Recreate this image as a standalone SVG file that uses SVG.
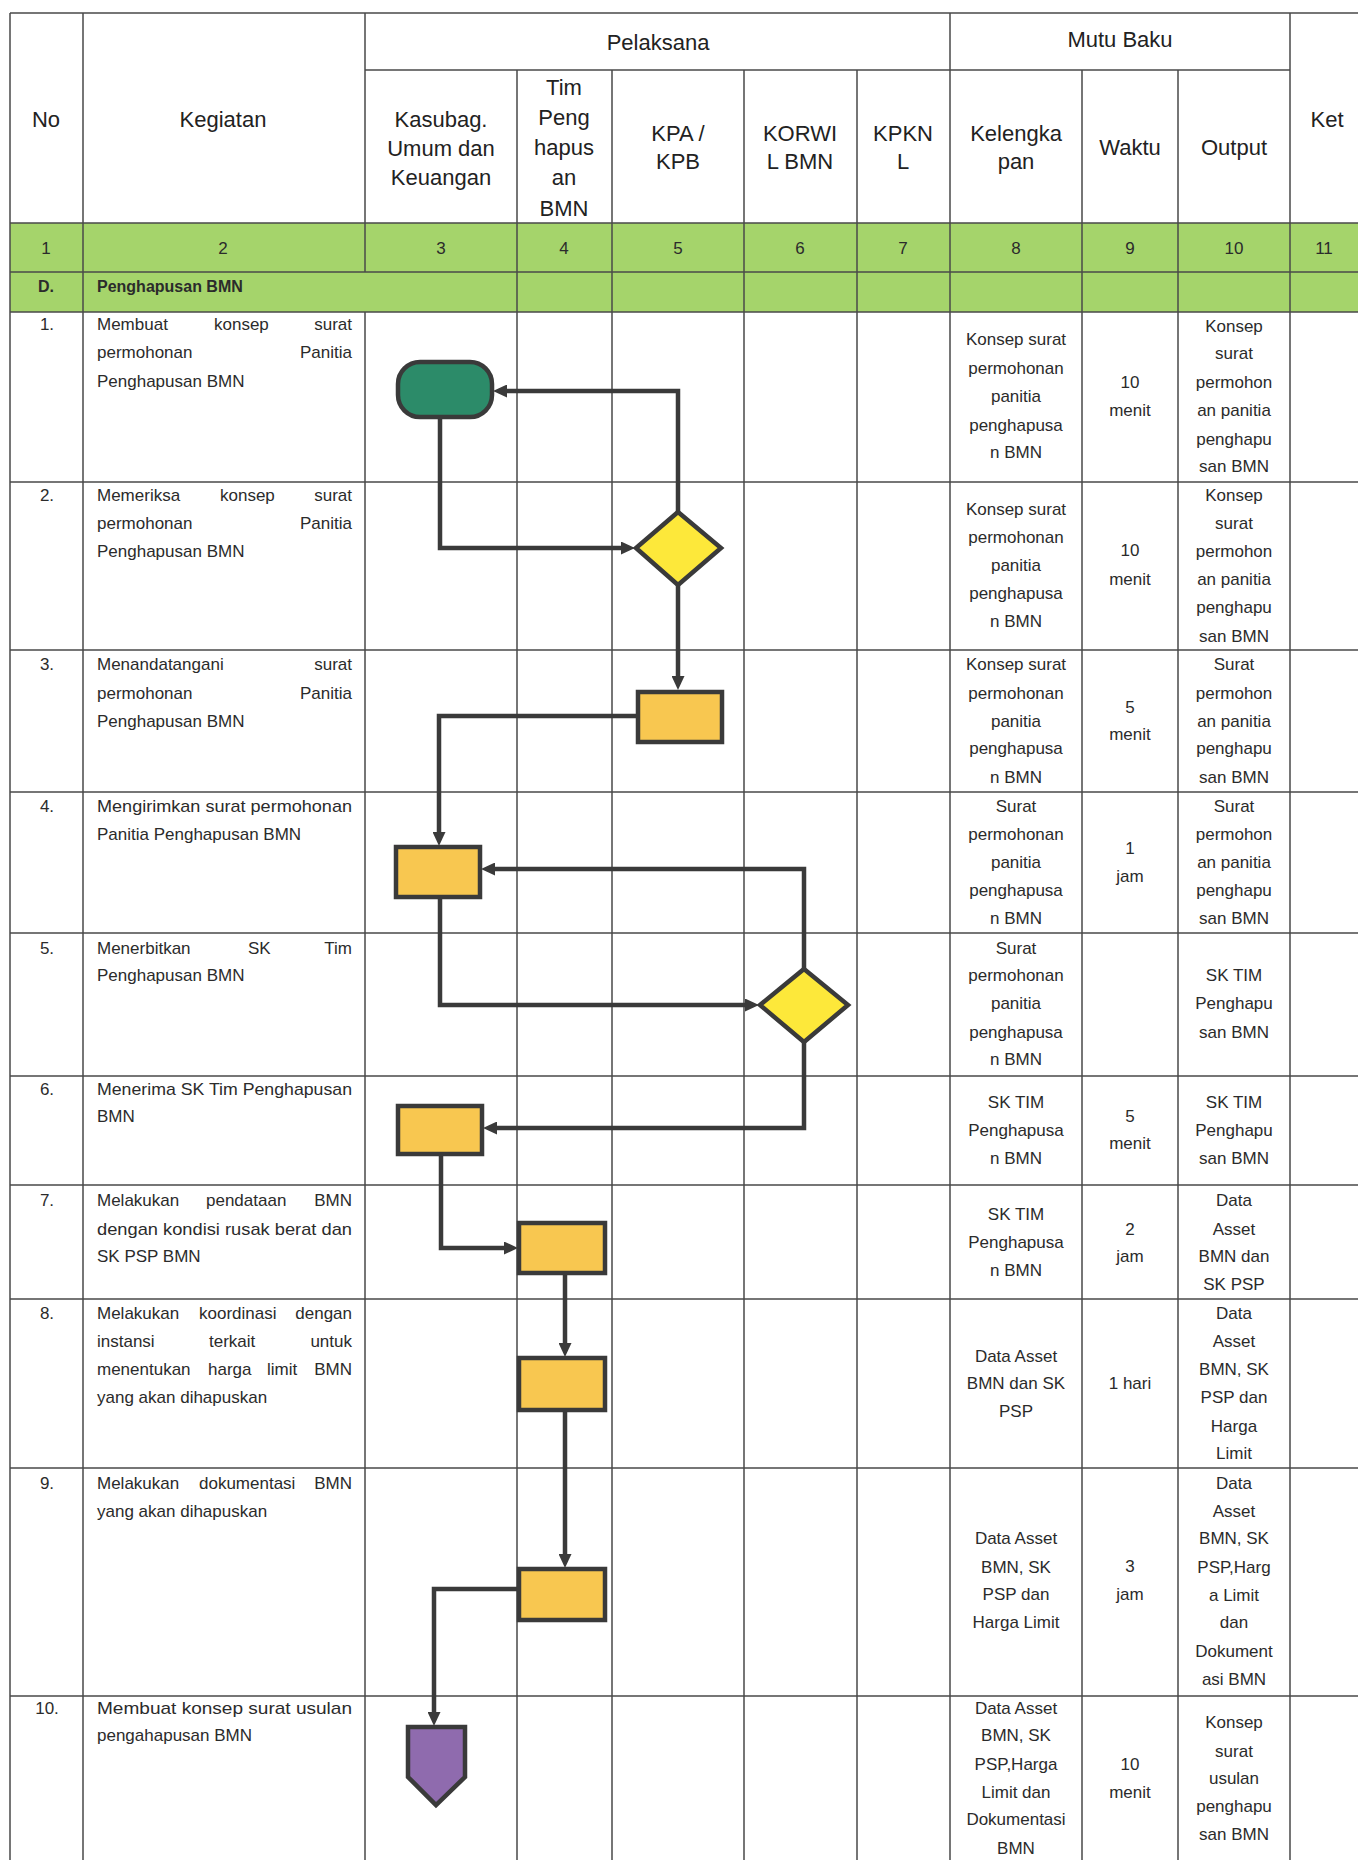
<svg xmlns="http://www.w3.org/2000/svg" width="1358" height="1860" viewBox="0 0 1358 1860">
<defs>
<style>
.g{stroke:#4a4a4a;stroke-width:1.5;fill:none}
.t{font-family:"Liberation Sans",Arial,sans-serif;font-size:17px;fill:#2b2b2b}
.m{text-anchor:middle}
.e{text-anchor:end}
.h{font-family:"Liberation Sans",Arial,sans-serif;font-size:22px;fill:#222222;text-anchor:middle}
.n{font-family:"Liberation Sans",Arial,sans-serif;font-size:17px;fill:#2b2b2b;text-anchor:middle}
.b{font-weight:bold;font-size:16px}
.box{fill:#F8C750;stroke:#3a3a3a;stroke-width:4.5}
.dia{fill:#FDE83A;stroke:#3a3a3a;stroke-width:4.5}
.c{fill:none;stroke:#3a3a3a;stroke-width:4.5;stroke-linejoin:miter}
</style>
<marker id="ah" markerWidth="14" markerHeight="13" refX="0" refY="6.5" orient="auto" markerUnits="userSpaceOnUse">
<path d="M0,0 L14,6.5 L0,13 z" fill="#3a3a3a"/>
</marker>
</defs>
<rect width="1358" height="1860" fill="#ffffff"/>
<g id="table">
<rect x="10" y="223" width="1348" height="89" fill="#A5D46B"/>
<path class="g" d="M10,13H1358 M365,70H1290 M10,223H1358 M10,272H1358 M10,312H1358 M10,482H1358 M10,650H1358 M10,792H1358 M10,933H1358 M10,1076H1358 M10,1185H1358 M10,1299H1358 M10,1468H1358 M10,1696H1358"/>
<path class="g" d="M10,13V1860 M83,13V1860 M365,13V272 M365,312V1860 M517,70V1860 M612,70V1860 M744,70V1860 M857,70V1860 M950,13V1860 M1082,70V1860 M1178,70V1860 M1290,13V1860"/>
</g>
<g id="header">
<text class="h" x="46" y="127">No</text>
<text class="h" x="223" y="127">Kegiatan</text>
<text class="h" x="658" y="50">Pelaksana</text>
<text class="h" x="1120" y="47">Mutu Baku</text>
<text class="h" x="1327" y="127">Ket</text>
<text class="h" x="441" y="127">Kasubag.</text>
<text class="h" x="441" y="156">Umum dan</text>
<text class="h" x="441" y="185">Keuangan</text>
<text class="h" x="564" y="95">Tim</text>
<text class="h" x="564" y="125">Peng</text>
<text class="h" x="564" y="155">hapus</text>
<text class="h" x="564" y="185">an</text>
<text class="h" x="564" y="216">BMN</text>
<text class="h" x="678" y="141">KPA /</text>
<text class="h" x="678" y="169">KPB</text>
<text class="h" x="800" y="141">KORWI</text>
<text class="h" x="800" y="169">L BMN</text>
<text class="h" x="903" y="141">KPKN</text>
<text class="h" x="903" y="169">L</text>
<text class="h" x="1016" y="141">Kelengka</text>
<text class="h" x="1016" y="169">pan</text>
<text class="h" x="1130" y="155">Waktu</text>
<text class="h" x="1234" y="155">Output</text>
<text class="n" x="46" y="254">1</text>
<text class="n" x="223" y="254">2</text>
<text class="n" x="441" y="254">3</text>
<text class="n" x="564" y="254">4</text>
<text class="n" x="678" y="254">5</text>
<text class="n" x="800" y="254">6</text>
<text class="n" x="903" y="254">7</text>
<text class="n" x="1016" y="254">8</text>
<text class="n" x="1130" y="254">9</text>
<text class="n" x="1234" y="254">10</text>
<text class="n" x="1324" y="254">11</text>
<text class="t m b" x="46" y="292">D.</text>
<text class="t b" x="97" y="292">Penghapusan BMN</text>
</g>
<g id="activities">
<text class="t m" x="47" y="330">1.</text>
<text class="t" x="97" y="330">Membuat</text><text class="t" x="214" y="330">konsep</text><text class="t e" x="352" y="330">surat</text>
<text class="t" x="97" y="358">permohonan</text><text class="t e" x="352" y="358">Panitia</text>
<text class="t" x="97" y="387">Penghapusan BMN</text>
<text class="t m" x="47" y="501">2.</text>
<text class="t" x="97" y="501">Memeriksa</text><text class="t" x="220" y="501">konsep</text><text class="t e" x="352" y="501">surat</text>
<text class="t" x="97" y="529">permohonan</text><text class="t e" x="352" y="529">Panitia</text>
<text class="t" x="97" y="557">Penghapusan BMN</text>
<text class="t m" x="47" y="670">3.</text>
<text class="t" x="97" y="670">Menandatangani</text><text class="t e" x="352" y="670">surat</text>
<text class="t" x="97" y="699">permohonan</text><text class="t e" x="352" y="699">Panitia</text>
<text class="t" x="97" y="727">Penghapusan BMN</text>
<text class="t m" x="47" y="812">4.</text>
<text class="t" x="97" y="812" textLength="255" lengthAdjust="spacingAndGlyphs">Mengirimkan surat permohonan</text>
<text class="t" x="97" y="840">Panitia Penghapusan BMN</text>
<text class="t m" x="47" y="954">5.</text>
<text class="t" x="97" y="954">Menerbitkan</text><text class="t" x="248" y="954">SK</text><text class="t e" x="352" y="954">Tim</text>
<text class="t" x="97" y="981">Penghapusan BMN</text>
<text class="t m" x="47" y="1095">6.</text>
<text class="t" x="97" y="1095" textLength="255" lengthAdjust="spacingAndGlyphs">Menerima SK Tim Penghapusan</text>
<text class="t" x="97" y="1122">BMN</text>
<text class="t m" x="47" y="1206">7.</text>
<text class="t" x="97" y="1206">Melakukan</text><text class="t" x="206" y="1206">pendataan</text><text class="t e" x="352" y="1206">BMN</text>
<text class="t" x="97" y="1235" textLength="255" lengthAdjust="spacingAndGlyphs">dengan kondisi rusak berat dan</text>
<text class="t" x="97" y="1262">SK PSP BMN</text>
<text class="t m" x="47" y="1319">8.</text>
<text class="t" x="97" y="1319">Melakukan</text><text class="t" x="199" y="1319">koordinasi</text><text class="t e" x="352" y="1319">dengan</text>
<text class="t" x="97" y="1347">instansi</text><text class="t" x="209" y="1347">terkait</text><text class="t e" x="352" y="1347">untuk</text>
<text class="t" x="97" y="1375">menentukan</text><text class="t" x="208" y="1375">harga</text><text class="t" x="267" y="1375">limit</text><text class="t e" x="352" y="1375">BMN</text>
<text class="t" x="97" y="1403">yang akan dihapuskan</text>
<text class="t m" x="47" y="1489">9.</text>
<text class="t" x="97" y="1489">Melakukan</text><text class="t" x="199" y="1489">dokumentasi</text><text class="t e" x="352" y="1489">BMN</text>
<text class="t" x="97" y="1517">yang akan dihapuskan</text>
<text class="t m" x="47" y="1714">10.</text>
<text class="t" x="97" y="1714" textLength="255" lengthAdjust="spacingAndGlyphs">Membuat konsep surat usulan</text>
<text class="t" x="97" y="1741">pengahapusan BMN</text>
</g>
<g id="mutu-baku">
<text class="t m" x="1016" y="345">Konsep surat</text><text class="t m" x="1016" y="374">permohonan</text><text class="t m" x="1016" y="402">panitia</text><text class="t m" x="1016" y="431">penghapusa</text><text class="t m" x="1016" y="458">n BMN</text>
<text class="t m" x="1130" y="388">10</text><text class="t m" x="1130" y="416">menit</text>
<text class="t m" x="1234" y="332">Konsep</text><text class="t m" x="1234" y="359">surat</text><text class="t m" x="1234" y="388">permohon</text><text class="t m" x="1234" y="416">an panitia</text><text class="t m" x="1234" y="445">penghapu</text><text class="t m" x="1234" y="472">san BMN</text>

<text class="t m" x="1016" y="515">Konsep surat</text><text class="t m" x="1016" y="543">permohonan</text><text class="t m" x="1016" y="571">panitia</text><text class="t m" x="1016" y="599">penghapusa</text><text class="t m" x="1016" y="627">n BMN</text>
<text class="t m" x="1130" y="556">10</text><text class="t m" x="1130" y="585">menit</text>
<text class="t m" x="1234" y="501">Konsep</text><text class="t m" x="1234" y="529">surat</text><text class="t m" x="1234" y="557">permohon</text><text class="t m" x="1234" y="585">an panitia</text><text class="t m" x="1234" y="613">penghapu</text><text class="t m" x="1234" y="642">san BMN</text>

<text class="t m" x="1016" y="670">Konsep surat</text><text class="t m" x="1016" y="699">permohonan</text><text class="t m" x="1016" y="727">panitia</text><text class="t m" x="1016" y="754">penghapusa</text><text class="t m" x="1016" y="783">n BMN</text>
<text class="t m" x="1130" y="713">5</text><text class="t m" x="1130" y="740">menit</text>
<text class="t m" x="1234" y="670">Surat</text><text class="t m" x="1234" y="699">permohon</text><text class="t m" x="1234" y="727">an panitia</text><text class="t m" x="1234" y="754">penghapu</text><text class="t m" x="1234" y="783">san BMN</text>

<text class="t m" x="1016" y="812">Surat</text><text class="t m" x="1016" y="840">permohonan</text><text class="t m" x="1016" y="868">panitia</text><text class="t m" x="1016" y="896">penghapusa</text><text class="t m" x="1016" y="924">n BMN</text>
<text class="t m" x="1130" y="854">1</text><text class="t m" x="1130" y="882">jam</text>
<text class="t m" x="1234" y="812">Surat</text><text class="t m" x="1234" y="840">permohon</text><text class="t m" x="1234" y="868">an panitia</text><text class="t m" x="1234" y="896">penghapu</text><text class="t m" x="1234" y="924">san BMN</text>

<text class="t m" x="1016" y="954">Surat</text><text class="t m" x="1016" y="981">permohonan</text><text class="t m" x="1016" y="1009">panitia</text><text class="t m" x="1016" y="1038">penghapusa</text><text class="t m" x="1016" y="1065">n BMN</text>
<text class="t m" x="1234" y="981">SK TIM</text><text class="t m" x="1234" y="1009">Penghapu</text><text class="t m" x="1234" y="1038">san BMN</text>

<text class="t m" x="1016" y="1108">SK TIM</text><text class="t m" x="1016" y="1136">Penghapusa</text><text class="t m" x="1016" y="1164">n BMN</text>
<text class="t m" x="1130" y="1122">5</text><text class="t m" x="1130" y="1149">menit</text>
<text class="t m" x="1234" y="1108">SK TIM</text><text class="t m" x="1234" y="1136">Penghapu</text><text class="t m" x="1234" y="1164">san BMN</text>

<text class="t m" x="1016" y="1220">SK TIM</text><text class="t m" x="1016" y="1248">Penghapusa</text><text class="t m" x="1016" y="1276">n BMN</text>
<text class="t m" x="1130" y="1235">2</text><text class="t m" x="1130" y="1262">jam</text>
<text class="t m" x="1234" y="1206">Data</text><text class="t m" x="1234" y="1235">Asset</text><text class="t m" x="1234" y="1262">BMN dan</text><text class="t m" x="1234" y="1290">SK PSP</text>

<text class="t m" x="1016" y="1362">Data Asset</text><text class="t m" x="1016" y="1389">BMN dan SK</text><text class="t m" x="1016" y="1417">PSP</text>
<text class="t m" x="1130" y="1389">1 hari</text>
<text class="t m" x="1234" y="1319">Data</text><text class="t m" x="1234" y="1347">Asset</text><text class="t m" x="1234" y="1375">BMN, SK</text><text class="t m" x="1234" y="1403">PSP dan</text><text class="t m" x="1234" y="1432">Harga</text><text class="t m" x="1234" y="1459">Limit</text>

<text class="t m" x="1016" y="1544">Data Asset</text><text class="t m" x="1016" y="1573">BMN, SK</text><text class="t m" x="1016" y="1600">PSP dan</text><text class="t m" x="1016" y="1628">Harga Limit</text>
<text class="t m" x="1130" y="1572">3</text><text class="t m" x="1130" y="1600">jam</text>
<text class="t m" x="1234" y="1489">Data</text><text class="t m" x="1234" y="1517">Asset</text><text class="t m" x="1234" y="1544">BMN, SK</text><text class="t m" x="1234" y="1573">PSP,Harg</text><text class="t m" x="1234" y="1601">a Limit</text><text class="t m" x="1234" y="1628">dan</text><text class="t m" x="1234" y="1657">Dokument</text><text class="t m" x="1234" y="1685">asi BMN</text>

<text class="t m" x="1016" y="1714">Data Asset</text><text class="t m" x="1016" y="1741">BMN, SK</text><text class="t m" x="1016" y="1770">PSP,Harga</text><text class="t m" x="1016" y="1798">Limit dan</text><text class="t m" x="1016" y="1825">Dokumentasi</text><text class="t m" x="1016" y="1854">BMN</text>
<text class="t m" x="1130" y="1770">10</text><text class="t m" x="1130" y="1798">menit</text>
<text class="t m" x="1234" y="1728">Konsep</text><text class="t m" x="1234" y="1757">surat</text><text class="t m" x="1234" y="1784">usulan</text><text class="t m" x="1234" y="1812">penghapu</text><text class="t m" x="1234" y="1840">san BMN</text>
</g>
<g id="connectors">
<path class="c" marker-end="url(#ah)" d="M678,512 V391 H507"/>
<path class="c" marker-end="url(#ah)" d="M440,417 V548 H621"/>
<path class="c" marker-end="url(#ah)" d="M678,585 V676"/>
<path class="c" marker-end="url(#ah)" d="M638,716 H439 V832"/>
<path class="c" marker-end="url(#ah)" d="M804,969 V869 H495"/>
<path class="c" marker-end="url(#ah)" d="M440,897 V1005 H745"/>
<path class="c" marker-end="url(#ah)" d="M804,1042 V1128 H497"/>
<path class="c" marker-end="url(#ah)" d="M441,1154 V1248 H504"/>
<path class="c" marker-end="url(#ah)" d="M565,1273 V1343"/>
<path class="c" marker-end="url(#ah)" d="M565,1410 V1554"/>
<path class="c" marker-end="url(#ah)" d="M519,1589 H434 V1712"/>
</g>
<g id="n1"><rect x="398" y="362" width="94" height="55" rx="22" ry="22" fill="#2C8B69" stroke="#3a3a3a" stroke-width="4.5"/></g>
<g id="n2"><polygon class="dia" points="678,512 721,548 678,585 636,548"/></g>
<g id="n3"><rect class="box" x="638" y="692" width="84" height="50"/></g>
<g id="n4"><rect class="box" x="396" y="847" width="84" height="50"/></g>
<g id="n5"><polygon class="dia" points="804,969 848,1005 804,1042 760,1005"/></g>
<g id="n6"><rect class="box" x="398" y="1106" width="84" height="48"/></g>
<g id="n7"><rect class="box" x="519" y="1223" width="86" height="50"/></g>
<g id="n8"><rect class="box" x="519" y="1358" width="86" height="52"/></g>
<g id="n9"><rect class="box" x="519" y="1569" width="86" height="51"/></g>
<g id="n10"><polygon points="408,1727 465,1727 465,1777 436,1805 408,1777" fill="#8F6BAE" stroke="#3a3a3a" stroke-width="4.5"/></g>
</svg>
